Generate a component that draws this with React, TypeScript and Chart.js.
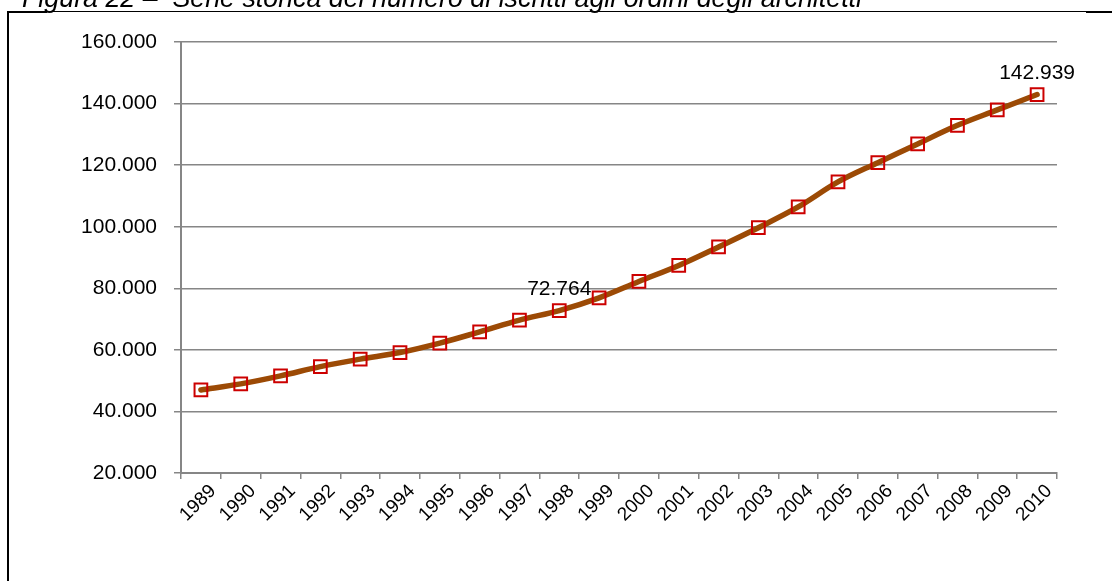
import React, { useEffect, useRef } from "react";
import { Chart, registerables } from "chart.js";

Chart.register(...registerables);

const categories = [
  "1989", "1990", "1991", "1992", "1993", "1994", "1995", "1996", "1997", "1998", "1999",
  "2000", "2001", "2002", "2003", "2004", "2005", "2006", "2007", "2008", "2009", "2010",
];
const iscritti = [
  46990, 48940, 51550, 54570, 56980, 59120, 62180, 65850, 69660, 72764, 76910,
  82210, 87420, 93430, 99680, 106410, 114540, 120810, 126890, 132940, 137950, 142939,
];
const labelledIndexes = [9, 21];
const yMin = 20000;
const yMax = 160000;
const yStep = 20000;
const titleText = "Figura 22 \u2013  Serie storica del numero di iscritti agli ordini degli architetti";

const FONT = "'Liberation Sans', Arial, sans-serif";

const fmt = (v: number) => String(Math.round(v)).replace(/\B(?=(\d{3})+(?!\d))/g, ".");

const dataLabelPlugin = {
  id: "dataLabels",
  afterDatasetsDraw(chart: any) {
    const meta = chart.getDatasetMeta(0);
    const ctx = chart.ctx;
    ctx.save();
    ctx.font = `21px ${FONT}`;
    ctx.fillStyle = "#000000";
    ctx.textAlign = "center";
    ctx.textBaseline = "alphabetic";
    labelledIndexes.forEach((i) => {
      const pt = meta.data[i];
      ctx.fillText(fmt(iscritti[i]), pt.x, pt.y - 16);
    });
    ctx.restore();
  },
};

export default function App() {
  const canvasRef = useRef<HTMLCanvasElement | null>(null);

  useEffect(() => {
    if (!canvasRef.current) return;
    const chart = new Chart(canvasRef.current, {
      type: "line",
      data: {
        labels: categories,
        datasets: [
          {
            label: "Iscritti",
            data: iscritti,
            borderColor: "#9C4A05",
            borderWidth: 5.5,
            tension: 0.35,
            pointStyle: "rect",
            pointRadius: 9,
            pointBorderWidth: 2,
            pointBorderColor: "#CC0000",
            pointBackgroundColor: "rgba(0,0,0,0)",
            borderCapStyle: "round",
            borderJoinStyle: "round",
          },
        ],
      },
      options: {
        responsive: false,
        animation: false,
        layout: { padding: { left: 0, top: 42, right: 55, bottom: 0 } },
        plugins: {
          legend: { display: false },
          tooltip: { enabled: false },
          title: { display: false },
        },
        scales: {
          x: {
            type: "category",
            offset: true,
            grid: {
              offset: true,
              drawOnChartArea: false,
              drawTicks: true,
              tickLength: 6,
              color: "#868686",
              lineWidth: 1.5,
            },
            border: { display: true, color: "#868686", width: 2 },
            ticks: {
              autoSkip: false,
              maxRotation: 45,
              minRotation: 45,
              padding: 1,
              labelOffset: 12,
              color: "#000000",
              font: { family: FONT, size: 19 },
            },
            afterFit(scale: any) {
              scale.height = 108;
            },
          },
          y: {
            min: yMin,
            max: yMax,
            grid: {
              color: "#868686",
              lineWidth: 1.5,
              drawTicks: true,
              tickLength: 7,
            },
            border: { display: true, color: "#868686", width: 2 },
            ticks: {
              stepSize: yStep,
              padding: 17,
              color: "#000000",
              font: { family: FONT, size: 21 },
              callback: (v: any) => fmt(Number(v)),
            },
            afterFit(scale: any) {
              scale.width = 181;
            },
          },
        },
      },
      plugins: [dataLabelPlugin],
    });
    return () => chart.destroy();
  }, []);

  return (
    <div
      style={{
        position: "fixed",
        left: 0,
        top: 0,
        width: 1112,
        height: 581,
        overflow: "hidden",
        background: "#ffffff",
      }}
    >
      <div style={{ position: "absolute", left: 8, top: 11, width: 1104, height: 1, background: "#000" }} />
      <div style={{ position: "absolute", left: 7, top: 11, width: 40, height: 2, background: "#000" }} />
      <div style={{ position: "absolute", left: 1086, top: 11, width: 26, height: 2, background: "#000" }} />
      <div style={{ position: "absolute", left: 7, top: 11, width: 2, height: 570, background: "#000" }} />
      <canvas
        ref={canvasRef}
        width={1112}
        height={581}
        style={{ position: "absolute", left: 0, top: 0, width: 1112, height: 581 }}
      />
      <span
        style={{
          position: "absolute",
          left: 22,
          top: -15,
          fontFamily: FONT,
          fontStyle: "italic",
          fontSize: 26.8,
          lineHeight: "26.8px",
          whiteSpace: "pre",
          color: "#000",
        }}
      >
        {titleText}
      </span>
    </div>
  );
}
